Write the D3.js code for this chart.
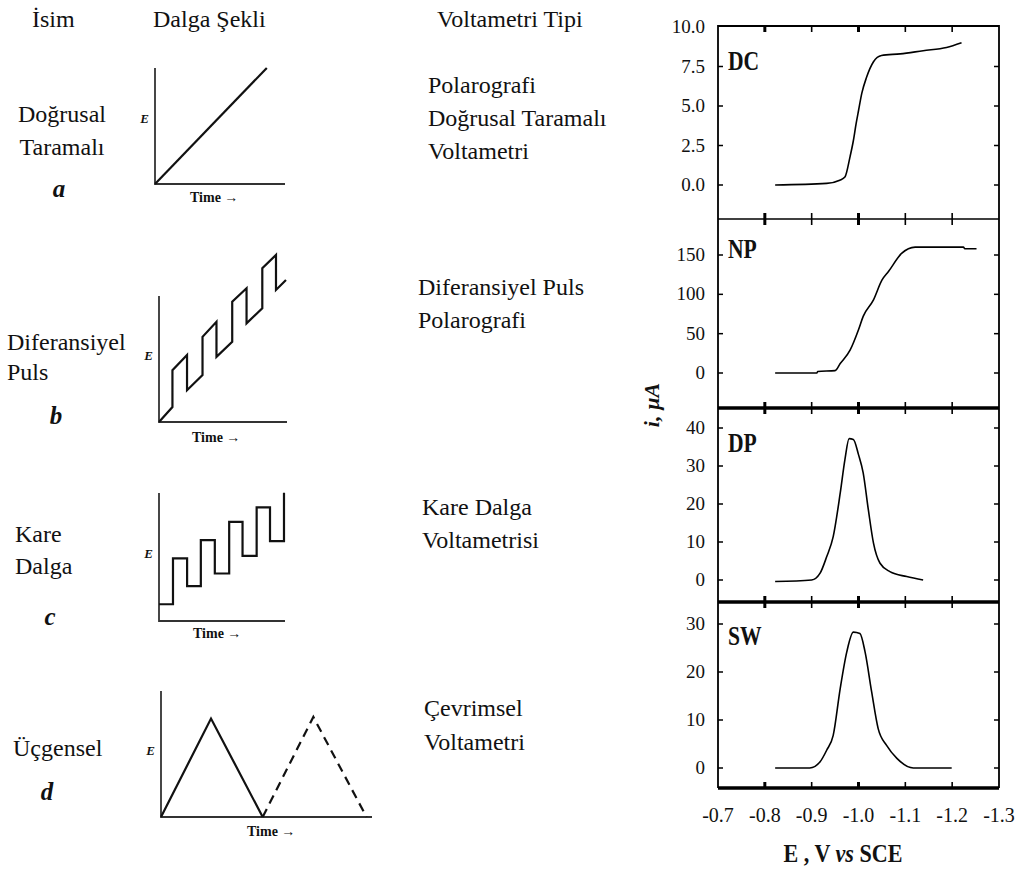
<!DOCTYPE html>
<html>
<head>
<meta charset="utf-8">
<script src="https://cdnjs.cloudflare.com/ajax/libs/d3/7.8.5/d3.min.js"></script>
<style>
  body { margin: 0; background: #fff; }
  svg text { font-family: "Liberation Serif", "Times New Roman", serif; fill: #111; }
</style>
</head>
<body>
<div id="chart"></div>
<script>
//===============================================//
// Data

// table columns
var headers = ["İsim", "Dalga Şekli", "Voltametri Tipi"];
var names = [["Doğrusal", "Taramalı"], ["Diferansiyel", "Puls"], ["Kare", "Dalga"], ["Üçgensel"]];
var letters = ["a", "b", "c", "d"];
var types = [["Polarografi", "Doğrusal Taramalı", "Voltametri"],
             ["Diferansiyel Puls", "Polarografi"],
             ["Kare Dalga", "Voltametrisi"],
             ["Çevrimsel", "Voltametri"]];

// waveform sketches, time and E in arbitrary units (0-10)
var waveA_t = [0, 8.6];
var waveA_E = [0, 10];
var waveB_t = [0, 1.05, 1.05, 2.19, 2.19, 3.40, 3.40, 4.49, 4.49, 5.72, 5.72, 6.84, 6.84, 8.07, 8.07, 9.14, 9.14, 9.92];
var waveB_E = [0, 1.19, 4.11, 5.31, 2.52, 3.72, 6.76, 7.96, 5.17, 6.36, 9.55, 10.61, 7.83, 9.02, 12.20, 13.26, 10.48, 11.27];
var waveC_t = [0, 1.11, 1.11, 2.23, 2.23, 3.32, 3.32, 4.43, 4.43, 5.57, 5.57, 6.63, 6.63, 7.75, 7.75, 8.81, 8.81, 9.92, 9.92];
var waveC_E = [1.31, 1.31, 4.89, 4.89, 2.72, 2.72, 6.32, 6.32, 3.71, 3.71, 7.75, 7.75, 5.09, 5.09, 8.88, 8.88, 6.24, 6.24, 10.02];
var waveD_t = [0, 2.37, 4.82];
var waveD_E = [0, 7.81, 0];
var waveD2_t = [4.82, 7.22, 9.74];
var waveD2_E = [0, 7.94, 0];

// voltammograms: E (V vs SCE) and current
var dcE = [-0.822, -0.932, -0.960, -0.971, -0.982, -0.989, -0.995, -1.000, -1.007, -1.017, -1.032, -1.049, -1.089, -1.138, -1.188, -1.220];
var dcI = [0, 0.1, 0.3, 0.5, 1.8, 2.8, 3.9, 4.7, 5.8, 6.8, 7.8, 8.2, 8.3, 8.5, 8.7, 9.0];
var npE = [-0.822, -0.911, -0.913, -0.950, -0.961, -0.982, -1.000, -1.010, -1.032, -1.050, -1.064, -1.092, -1.121, -1.224, -1.227, -1.252];
var npI = [0, 0, 2, 3, 12, 29, 55, 72, 93, 118, 129, 152, 160, 160, 158, 158];
var dpE = [-0.822, -0.900, -0.918, -0.932, -0.946, -0.961, -0.971, -0.980, -0.989, -1.000, -1.010, -1.021, -1.032, -1.046, -1.067, -1.103, -1.138];
var dpI = [-0.4, 0, 1.8, 6.1, 11.4, 22.9, 31.7, 37.2, 37, 33, 28.2, 18.5, 9.7, 4.4, 2.2, 0.9, 0];
var swE = [-0.822, -0.896, -0.918, -0.932, -0.946, -0.961, -0.975, -0.989, -1.003, -1.014, -1.028, -1.042, -1.060, -1.082, -1.117, -1.199];
var swI = [0, 0, 1.3, 3.7, 6.8, 16.6, 24.2, 28.3, 28, 24.2, 15.9, 8.2, 4.7, 2, 0, 0];

var xTicks = [-0.7, -0.8, -0.9, -1.0, -1.1, -1.2, -1.3];
var xTickLabels = ["-0.7", "-0.8", "-0.9", "-1.0", "-1.1", "-1.2", "-1.3"];
var dcTicks = [0, 2.5, 5, 7.5, 10];
var dcTickLabels = ["0.0", "2.5", "5.0", "7.5", "10.0"];
var npTicks = [0, 50, 100, 150];
var dpTicks = [0, 10, 20, 30, 40];
var swTicks = [0, 10, 20, 30];

//===============================================//
const width = 1021;
const height = 872;

var svg = d3.select("#chart").append("svg")
    .attr("width", width)
    .attr("height", height);

// ------------------ left table ------------------ //
var headerX = [32, 153, 437];
svg.selectAll("text.header")
    .data(headers)
    .enter()
    .append("text")
    .attr("class", "header")
    .attr("x", (d, i) => headerX[i])
    .attr("y", 27)
    .attr("font-size", 24)
    .text(d => d);

// name column
var nameLayout = [
    {x: 62, anchor: "middle", y: [122, 155], lx: 59, ly: 197},
    {x: 7, anchor: "start", y: [350, 380], lx: 56, ly: 424},
    {x: 15, anchor: "start", y: [542, 574], lx: 50, ly: 625},
    {x: 13, anchor: "start", y: [756], lx: 47, ly: 800}
];
names.forEach(function(lines, i) {
    var L = nameLayout[i];
    lines.forEach(function(s, j) {
        svg.append("text")
            .attr("x", L.x).attr("y", L.y[j])
            .attr("text-anchor", L.anchor)
            .attr("font-size", 24)
            .text(s);
    });
    svg.append("text")
        .attr("x", L.lx).attr("y", L.ly)
        .attr("text-anchor", "middle")
        .attr("font-size", 25)
        .attr("font-weight", "bold")
        .attr("font-style", "italic")
        .text(letters[i]);
});

// type column
var typeLayout = [
    {x: 428, y: [93, 126, 159]},
    {x: 418, y: [295, 328]},
    {x: 422, y: [515, 548]},
    {x: 424, y: [716, 750]}
];
types.forEach(function(lines, i) {
    lines.forEach(function(s, j) {
        svg.append("text")
            .attr("x", typeLayout[i].x).attr("y", typeLayout[i].y[j])
            .attr("font-size", 24)
            .text(s);
    });
});

// waveform sketches
var sketches = [
    {x0: 155, y0: 184, w: 130, h: 116, top: 68, right: 285, lines: [[waveA_t, waveA_E, false]], eY: 123, tX: 190, tY: 202},
    {x0: 159, y0: 422, w: 128, h: 126, top: 296, right: 287, lines: [[waveB_t, waveB_E, false]], eY: 360, tX: 192, tY: 442},
    {x0: 159, y0: 621, w: 126, h: 128, top: 493, right: 285, lines: [[waveC_t, waveC_E, false]], eY: 558, tX: 193, tY: 638},
    {x0: 161, y0: 817, w: 211, h: 126, top: 691, right: 372, lines: [[waveD_t, waveD_E, false], [waveD2_t, waveD2_E, true]], eY: 755, tX: 247, tY: 836}
];

sketches.forEach(function(s) {
    var x = d3.scaleLinear().domain([0, 10]).range([s.x0, s.x0 + s.w]);
    var y = d3.scaleLinear().domain([0, 10]).range([s.y0, s.y0 - s.h]);
    var g = svg.append("g");

    g.append("path")
        .attr("d", "M" + s.x0 + "," + s.top + "V" + s.y0 + "H" + s.right)
        .attr("fill", "none")
        .attr("stroke", "#333")
        .attr("stroke-width", 1.8);

    s.lines.forEach(function(ln) {
        var pts = ln[0].map((t, i) => [t, ln[1][i]]);
        g.append("path")
            .attr("d", d3.line().x(d => x(d[0])).y(d => y(d[1]))(pts))
            .attr("fill", "none")
            .attr("stroke", "#111")
            .attr("stroke-width", 2.2)
            .attr("stroke-linejoin", "miter")
            .attr("stroke-dasharray", ln[2] ? "9,6" : null);
    });

    g.append("text")
        .attr("x", s.x0 - 6).attr("y", s.eY)
        .attr("text-anchor", "end")
        .attr("font-size", 13)
        .attr("font-weight", "bold")
        .attr("font-style", "italic")
        .text("E");
    g.append("text")
        .attr("x", s.tX).attr("y", s.tY)
        .attr("font-size", 14)
        .attr("font-weight", "bold")
        .text("Time \u2192");
});

// ------------------ voltammograms ------------------ //
var left = 718, right = 999;
var x = d3.scaleLinear().domain([-0.7, -1.3]).range([left, right]);

var panels = [
    {name: "DC", top: 26, bottom: 219, e: dcE, i: dcI, ticks: dcTicks, labels: dcTickLabels, y: d3.scaleLinear().domain([0, 10]).range([185, 27]), ly: 70, sw: 1.5},
    {name: "NP", top: 219, bottom: 408, e: npE, i: npI, ticks: npTicks, labels: null, y: d3.scaleLinear().domain([0, 150]).range([373, 255]), ly: 258, sw: 3.5},
    {name: "DP", top: 408, bottom: 602, e: dpE, i: dpI, ticks: dpTicks, labels: null, y: d3.scaleLinear().domain([0, 40]).range([580, 428]), ly: 452, sw: 3.5},
    {name: "SW", top: 602, bottom: 788, e: swE, i: swI, ticks: swTicks, labels: null, y: d3.scaleLinear().domain([0, 30]).range([768, 624]), ly: 645, sw: 3.5}
];

var line = d3.line()
    .x(d => x(d[0]))
    .y(d => d[1])
    .curve(d3.curveMonotoneX);

panels.forEach(function(p) {
    var g = svg.append("g");

    // x ticks at top and bottom of panel
    xTicks.slice(1, -1).forEach(function(t, k) {
        var major = (k === 0 || k === 2);
        g.append("line")
            .attr("x1", x(t)).attr("x2", x(t))
            .attr("y1", p.top).attr("y2", p.top + 6)
            .attr("stroke", "#000").attr("stroke-width", major ? 3 : 1.6);
        g.append("line")
            .attr("x1", x(t)).attr("x2", x(t))
            .attr("y1", p.bottom).attr("y2", p.bottom - 6)
            .attr("stroke", "#000").attr("stroke-width", major ? 3 : 1.6);
    });

    // y ticks, both sides
    p.ticks.forEach(function(t, k) {
        var yy = p.y(t);
        if (yy > p.top + 2) {
            g.append("line").attr("x1", left).attr("x2", left + 5)
                .attr("y1", yy).attr("y2", yy)
                .attr("stroke", "#000").attr("stroke-width", 1.5);
            g.append("line").attr("x1", right).attr("x2", right - 5)
                .attr("y1", yy).attr("y2", yy)
                .attr("stroke", "#000").attr("stroke-width", 1.5);
        }
        g.append("text")
            .attr("x", 705).attr("y", yy + 6)
            .attr("text-anchor", "end")
            .attr("font-size", 19)
            .text(p.labels ? p.labels[k] : String(t));
    });

    // curve
    var pts = p.e.map((e, k) => [e, p.y(p.i[k])]);
    g.append("path")
        .attr("d", line(pts))
        .attr("fill", "none")
        .attr("stroke", "#000")
        .attr("stroke-width", 1.6);

    // panel label
    g.append("text")
        .attr("transform", "translate(728," + p.ly + ") scale(0.8,1)")
        .attr("font-size", 27)
        .attr("font-weight", "bold")
        .text(p.name);

    // panel bottom divider
    g.append("line")
        .attr("x1", left).attr("x2", right)
        .attr("y1", p.bottom).attr("y2", p.bottom)
        .attr("stroke", "#000").attr("stroke-width", p.sw);
});

// outer frame
svg.append("path")
    .attr("d", "M" + left + "," + 788 + "V" + 26 + "H" + right + "V" + 788)
    .attr("fill", "none")
    .attr("stroke", "#000")
    .attr("stroke-width", 1.8);

// x tick labels
svg.selectAll("text.xlab")
    .data(xTicks)
    .enter()
    .append("text")
    .attr("class", "xlab")
    .attr("x", d => x(d))
    .attr("y", 822)
    .attr("text-anchor", "middle")
    .attr("font-size", 20)
    .text((d, i) => xTickLabels[i]);

// axis titles
var xt = svg.append("text")
    .attr("transform", "translate(843,862) scale(0.85,1)")
    .attr("text-anchor", "middle")
    .attr("font-size", 26)
    .attr("font-weight", "bold");
xt.append("tspan").text("E , V ");
xt.append("tspan").attr("font-style", "italic").text("vs");
xt.append("tspan").text(" SCE");

svg.append("text")
    .attr("transform", "translate(659,405) rotate(-90)")
    .attr("text-anchor", "middle")
    .attr("font-size", 22)
    .attr("font-weight", "bold")
    .attr("font-style", "italic")
    .text("i, \u00b5A");
</script>
</body>
</html>
